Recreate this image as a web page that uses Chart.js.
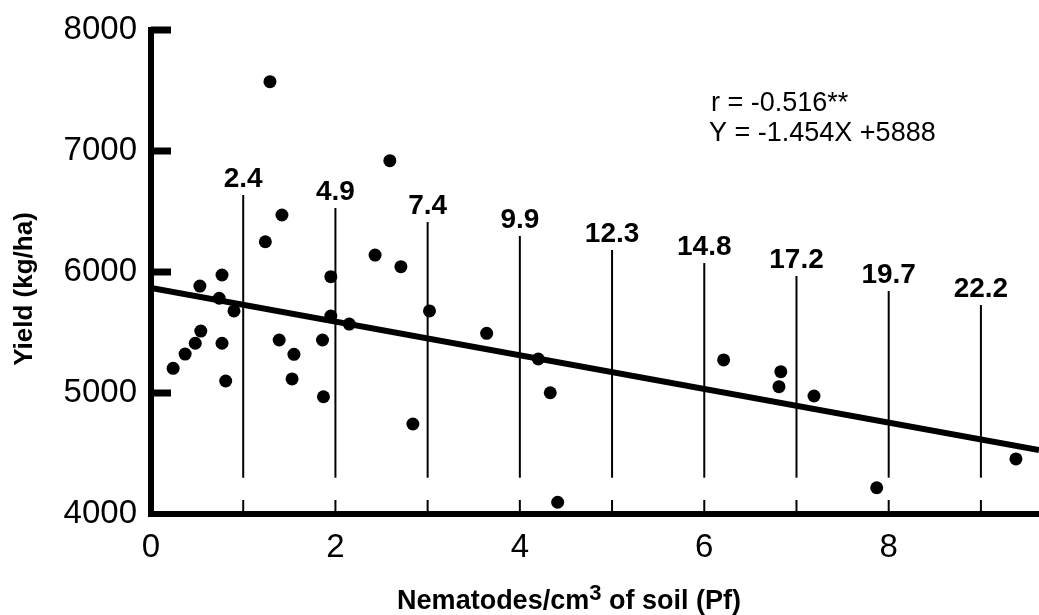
<!DOCTYPE html>
<html>
<head>
<meta charset="utf-8">
<script src="https://cdn.jsdelivr.net/npm/chart.js@4/dist/chart.umd.min.js"></script>
<style>
  html, body { margin: 0; padding: 0; background: #ffffff; overflow: hidden; }
  #wrap { width: 1039px; height: 615px; }
  canvas { display: block; }
</style>
</head>
<body>
<div id="wrap"><canvas id="nemChart" width="1039" height="615"></canvas></div>
<script>
// Yield vs nematode density (Pf)
const nemX = [0.77, 0.53, 0.74, 0.90, 0.54, 0.48, 0.37, 0.24, 0.77, 0.81,
  1.39, 1.55, 1.53, 1.86, 1.87, 1.95, 1.95, 2.15, 2.43, 2.71, 3.02, 2.84,
  1.29, 2.59, 1.42, 1.24,
  3.64, 4.20, 4.33, 4.41, 6.21, 6.83, 6.81, 7.19, 7.87, 9.38];
const yieldY = [5975, 5884, 5783, 5678, 5512, 5411, 5322, 5204, 5411, 5099,
  5438, 5320, 5116, 5438, 4969, 5961, 5636, 5570, 6140, 6044, 5678, 4744,
  7573, 6920, 6471, 6250,
  5493, 5281, 5002, 4097, 5273, 5176, 5052, 4975, 4217, 4455];

// fitted regression line, read at both ends of the plot
const fitX = [0, 9.63];
const fitY = [5868, 4529];

// vertical marker lines and their labels
const markX = [1, 2, 3, 4, 5, 6, 7, 8, 9];
const markTop = [6636, 6529, 6413, 6298, 6182, 6074, 5967, 5843, 5727];
const markBottom = 4300;
const markLabels = ['2.4', '4.9', '7.4', '9.9', '12.3', '14.8', '17.2', '19.7', '22.2'];

const xTickLabels = [0, 2, 4, 6, 8];
const yTicks = [4000, 5000, 6000, 7000, 8000];

const FONT = "'Liberation Sans', Arial, Helvetica, sans-serif";

const scatterData = nemX.map((x, i) => ({ x: x, y: yieldY[i] }));
const fitData = fitX.map((x, i) => ({ x: x, y: fitY[i] }));

const datasets = [
  {
    label: 'yield',
    data: scatterData,
    pointRadius: 6.5,
    pointBackgroundColor: '#000',
    pointBorderWidth: 0,
    showLine: false,
    order: 1
  },
  {
    label: 'fit',
    data: fitData,
    showLine: true,
    borderColor: '#000',
    borderWidth: 6,
    pointRadius: 0,
    order: 2
  }
];
markX.forEach((x, i) => {
  datasets.push({
    label: 'mark' + i,
    data: [{ x: x, y: markBottom }, { x: x, y: markTop[i] }],
    showLine: true,
    borderColor: '#000',
    borderWidth: 2,
    pointRadius: 0,
    order: 3
  });
});

// ticks pointing inward, marker labels, titles and equation
const annotate = {
  id: 'annotate',
  afterDraw(chart) {
    const ctx = chart.ctx;
    const xs = chart.scales.x, ys = chart.scales.y;
    const area = chart.chartArea;
    ctx.save();
    ctx.strokeStyle = '#000';
    ctx.fillStyle = '#000';

    // y ticks
    ctx.lineWidth = 7;
    yTicks.forEach(v => {
      if (v === 4000) return;
      const py = ys.getPixelForValue(v);
      ctx.beginPath();
      ctx.moveTo(area.left, py);
      ctx.lineTo(area.left + 20, py);
      ctx.stroke();
    });
    // x ticks
    ctx.lineWidth = 2;
    markX.forEach(v => {
      const px = xs.getPixelForValue(v);
      ctx.beginPath();
      ctx.moveTo(px, area.bottom);
      ctx.lineTo(px, area.bottom - 14);
      ctx.stroke();
    });

    // marker labels
    ctx.font = 'bold 28px ' + FONT;
    ctx.textAlign = 'center';
    ctx.textBaseline = 'alphabetic';
    markX.forEach((x, i) => {
      const px = xs.getPixelForValue(x);
      const py = ys.getPixelForValue(markTop[i]);
      ctx.fillText(markLabels[i], px, py - 8);
    });

    // equation
    ctx.font = '27px ' + FONT;
    ctx.textAlign = 'left';
    ctx.fillText('r = -0.516**', 711, 111);
    ctx.fillText('Y = -1.454X +5888', 709, 141);

    // x title with superscript
    const big = 'bold 27px ' + FONT, small = 'bold 22px ' + FONT;
    const partA = 'Nematodes/cm', partB = '3', partC = ' of soil (Pf)';
    ctx.font = big;
    const wA = ctx.measureText(partA).width;
    const wC = ctx.measureText(partC).width;
    ctx.font = small;
    const wB = ctx.measureText(partB).width;
    let tx = 569 - (wA + wB + wC) / 2;
    ctx.font = big;
    ctx.fillText(partA, tx, 609);
    ctx.font = small;
    ctx.fillText(partB, tx + wA, 600);
    ctx.font = big;
    ctx.fillText(partC, tx + wA + wB, 609);

    // y title
    ctx.translate(32, 289);
    ctx.rotate(-Math.PI / 2);
    ctx.font = 'bold 26px ' + FONT;
    ctx.textAlign = 'center';
    ctx.fillText('Yield (kg/ha)', 0, 0);
    ctx.restore();
  }
};

new Chart(document.getElementById('nemChart'), {
  type: 'scatter',
  data: { datasets: datasets },
  options: {
    responsive: false,
    animation: false,
    layout: { autoPadding: false, padding: { top: 30, right: 0, left: 0, bottom: 0 } },
    plugins: {
      legend: { display: false },
      tooltip: { enabled: false }
    },
    scales: {
      x: {
        type: 'linear',
        min: 0,
        max: 9.63,
        afterFit(scale) {
          scale.height = 101;
          scale.paddingLeft = 0;
          scale.paddingRight = 0;
        },
        grid: { display: false, drawTicks: false },
        border: { display: true, color: '#000', width: 6 },
        ticks: {
          stepSize: 1,
          includeBounds: false,
          autoSkip: false,
          maxRotation: 0,
          padding: 14,
          color: '#000',
          font: { family: FONT, size: 33 },
          callback: v => xTickLabels.includes(v) ? String(v) : ''
        }
      },
      y: {
        type: 'linear',
        min: 4000,
        max: 8000,
        afterFit(scale) {
          scale.width = 151;
          scale.paddingTop = 0;
          scale.paddingBottom = 0;
        },
        grid: { display: false, drawTicks: false },
        border: { display: true, color: '#000', width: 6 },
        ticks: {
          stepSize: 1000,
          padding: 14,
          color: '#000',
          font: { family: FONT, size: 33 },
          callback: v => yTicks.includes(v) ? String(v) : ''
        }
      }
    }
  },
  plugins: [annotate]
});
</script>
</body>
</html>
